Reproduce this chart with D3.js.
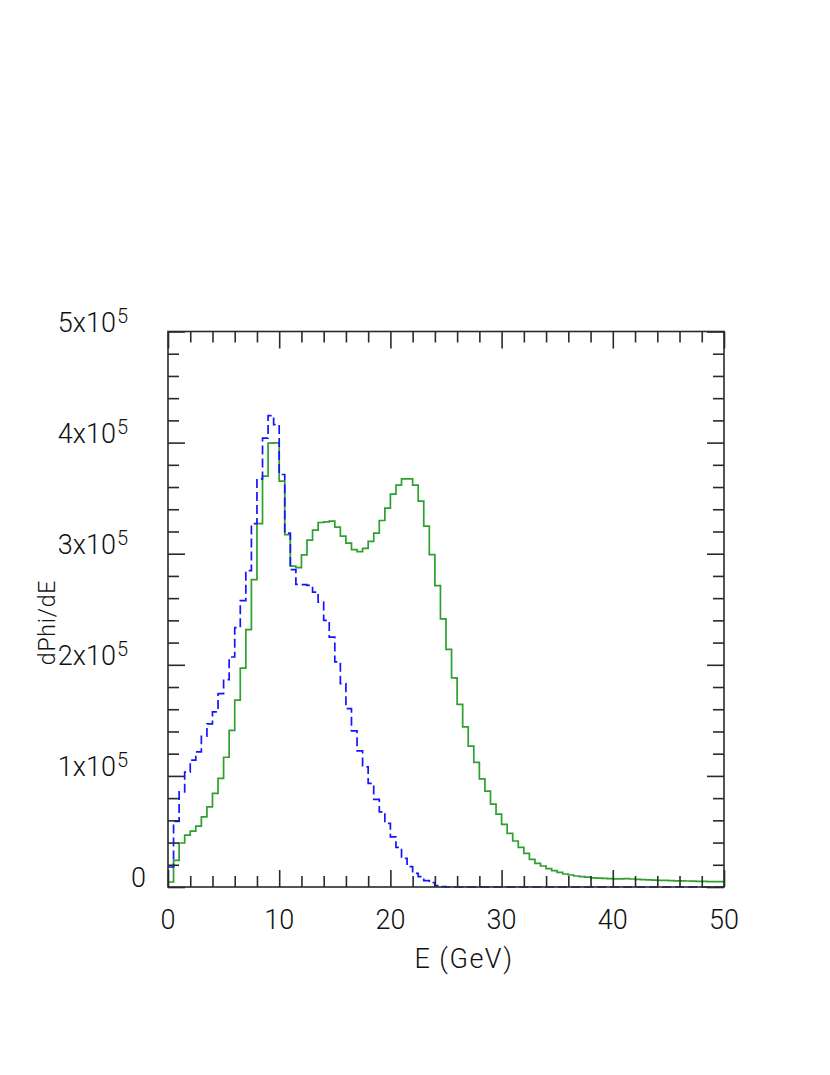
<!DOCTYPE html>
<html><head><meta charset="utf-8">
<script src="https://cdn.jsdelivr.net/npm/d3@7"></script>
<style>html,body{margin:0;padding:0;background:#fff}</style>
</head><body><svg id="c" width="830" height="1075"></svg>
<script>
// ---- data ----
const binWidth = 0.5;       // GeV
const xDomain = [0, 50];
const yDomain = [0, 500000];
const greenSolid = [
  4500, 24000, 39600, 46700, 50300, 54800, 63200, 72200, 84200, 97700,
  116800, 141000, 168200, 197000, 231700, 276600, 327000, 369800, 399500, 399700,
  365300, 317200, 288900, 287500, 299000, 312300, 321300, 328100, 328700, 329300,
  323900, 315800, 309500, 303600, 301800, 304800, 311100, 318500, 329900, 341000,
  353600, 361700, 367400, 367400, 361700, 347300, 324800, 299100, 271200, 241300,
  213800, 188200, 164400, 144100, 126800, 112100, 97400, 86300, 74600, 65600,
  56300, 48200, 41400, 35700, 30300, 24900, 21300, 18900, 16500, 14700,
  13200, 11700, 10800, 9900, 9300, 8800, 8300, 8000, 7700, 7500,
  7400, 7400, 7500, 7200, 6800, 6600, 6400, 6200, 6000, 5900,
  5800, 5600, 5500, 5400, 5300, 5100, 5000, 4900, 4900, 4800
];
const blueDashed = [
  18000, 59000, 85700, 103400, 114200, 121600, 135700, 146800, 157600, 174000,
  186700, 207000, 233500, 257800, 284700, 327000, 367400, 404000, 424300, 416200,
  371300, 318500, 285700, 272400, 272200, 271500, 265500, 256500, 240000, 225000,
  202600, 183100, 160600, 140500, 122500, 108200, 93200, 78800, 67700, 57300,
  45200, 35700, 25800, 18300, 12300, 9300, 5700, 3900, 1200, 300,
  0, 0, 0, 0, 0, 0, 0, 0, 0, 0,
  0, 0, 0, 0, 0, 0, 0, 0, 0, 0,
  0, 0, 0, 0, 0, 0, 0, 0, 0, 0,
  0, 0, 0, 0, 0, 0, 0, 0, 0, 0,
  0, 0, 0, 0, 0, 0, 0, 0, 0, 0
];
const xMajorTicks = [0, 10, 20, 30, 40, 50];
const xTickLabels = ["0", "10", "20", "30", "40", "50"];
const yMajorTicks = [0, 100000, 200000, 300000, 400000, 500000];
const yTickMantissa = ["0", "1", "2", "3", "4", "5"];
const yTickExponent = "5";
const xTitle = "E (GeV)";
const yTitle = "dPhi/dE";

// ---- layout ----
const L = 168, R = 724, T = 331.5, B = 887;
const svg = d3.select("#c");
const x = d3.scaleLinear().domain(xDomain).range([L, R]);
const y = d3.scaleLinear().domain(yDomain).range([B, T]);
const font = "Roboto, 'Liberation Sans', sans-serif";
const axisColor = "#2a2a2a";

// histograms
function stepPts(vals) {
  const pts = vals.map((v, i) => [xDomain[0] + i * binWidth, v]);
  pts.push([xDomain[0] + vals.length * binWidth, vals[vals.length - 1]]);
  return pts;
}
const line = d3.line().x(d => x(d[0])).y(d => y(d[1])).curve(d3.curveStepAfter);

svg.append("path").attr("d", line(stepPts(greenSolid)))
  .attr("fill", "none").attr("stroke", "rgb(45,160,45)").attr("stroke-width", 1.7);
svg.append("path").attr("d", line(stepPts(blueDashed)))
  .attr("fill", "none").attr("stroke", "rgb(20,20,255)").attr("stroke-width", 1.7)
  .attr("stroke-dasharray", "9,4");

// frame
svg.append("rect").attr("x", L).attr("y", T).attr("width", R - L).attr("height", B - T)
  .attr("fill", "none").attr("stroke", axisColor).attr("stroke-width", 1.6);

// ticks (inward, all four sides) via d3 axes
const xMinor = d3.range(0, 50.001, 2).filter(v => v % 10 !== 0);
const yMinor = d3.range(0, 500001, 20000).filter(v => v % 100000 !== 0);
function tickGroup(axisFn, transform, values, size) {
  const g = svg.append("g").attr("transform", transform)
    .call(axisFn.tickValues(values).tickSize(size).tickFormat(""));
  g.select(".domain").remove();
  g.selectAll("line").attr("stroke", axisColor).attr("stroke-width", 1.6);
}
tickGroup(d3.axisTop(x), `translate(0,${B})`, xMinor, 11);
tickGroup(d3.axisTop(x), `translate(0,${B})`, xMajorTicks, 17);
tickGroup(d3.axisBottom(x), `translate(0,${T})`, xMinor, 11);
tickGroup(d3.axisBottom(x), `translate(0,${T})`, xMajorTicks, 17);
tickGroup(d3.axisRight(y), `translate(${L},0)`, yMinor, 11);
tickGroup(d3.axisRight(y), `translate(${L},0)`, yMajorTicks, 17);
tickGroup(d3.axisLeft(y), `translate(${R},0)`, yMinor, 11);
tickGroup(d3.axisLeft(y), `translate(${R},0)`, yMajorTicks, 17);

// x tick labels
svg.append("g").selectAll("text").data(xMajorTicks).join("text")
  .attr("x", d => x(d)).attr("y", 929)
  .attr("text-anchor", "middle").attr("font-family", font).attr("font-weight", 300)
  .attr("font-size", 27).attr("fill", "#111")
  .text((d, i) => xTickLabels[i]);

// y tick labels
yMajorTicks.forEach((v, i) => {
  if (v === 0) {
    svg.append("text").attr("x", 146).attr("y", y(v))
      .attr("text-anchor", "end").attr("font-family", font).attr("font-weight", 300)
      .attr("font-size", 27).attr("fill", "#111").text(yTickMantissa[i]);
  } else {
    const t = svg.append("text").attr("x", 128).attr("y", y(v) + 0.5)
      .attr("text-anchor", "end").attr("font-family", font).attr("font-weight", 300)
      .attr("font-size", 27).attr("fill", "#111");
    t.append("tspan").text(yTickMantissa[i] + "x10");
    t.append("tspan").attr("font-size", 20).attr("dy", -9).attr("dx", 1).text(yTickExponent);
  }
});

// axis titles
svg.append("text").attr("x", 464).attr("y", 968)
  .attr("text-anchor", "middle").attr("font-family", font).attr("font-weight", 300)
  .attr("font-size", 27).attr("letter-spacing", 1.5).attr("fill", "#111").text(xTitle);
svg.append("text").attr("transform", "translate(55,622.5) rotate(-90)")
  .attr("text-anchor", "middle").attr("font-family", font).attr("font-weight", 300)
  .attr("font-size", 23).attr("letter-spacing", 0.8).attr("fill", "#111").text(yTitle);
</script></body></html>
